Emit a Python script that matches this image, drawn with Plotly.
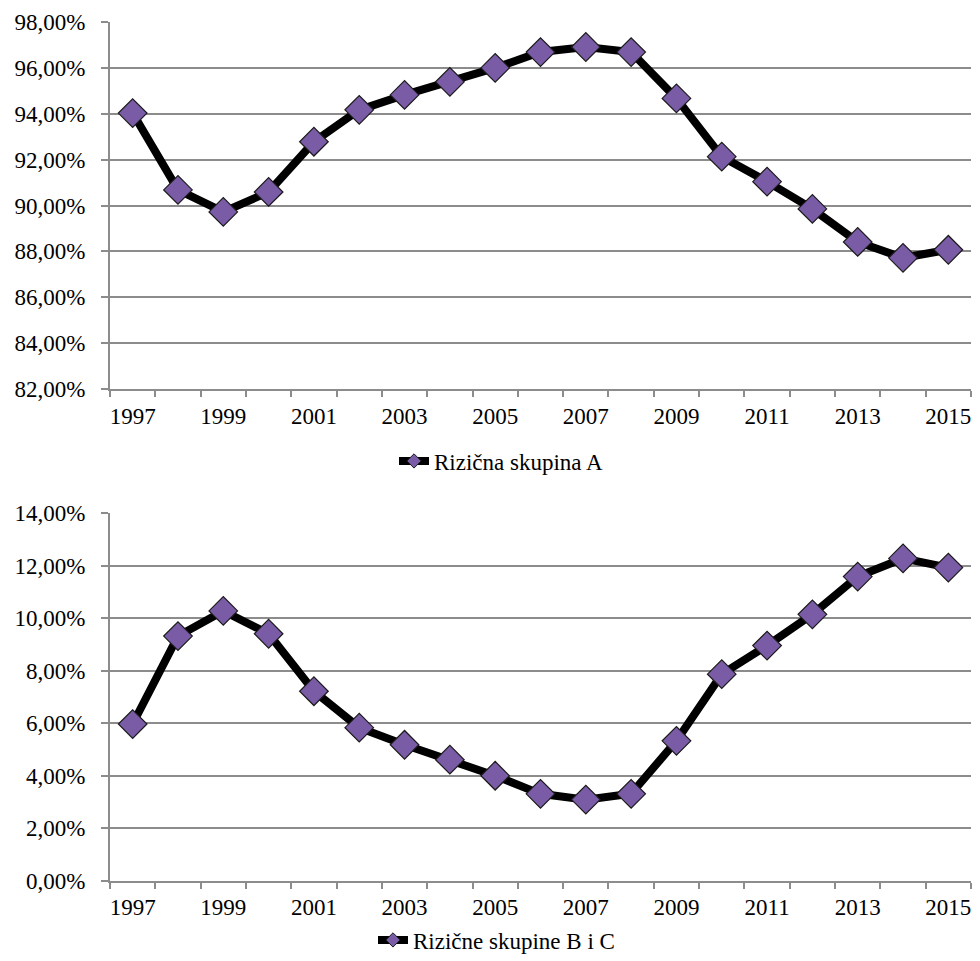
import plotly.graph_objects as go

years = list(range(1997, 2016))
skupina_a = [94.03, 90.68, 89.72, 90.59, 92.78, 94.17, 94.82, 95.39, 96.00, 96.69,
             96.91, 96.69, 94.67, 92.13, 91.04, 89.85, 88.41, 87.72, 88.07]
skupine_bc = [5.97, 9.32, 10.28, 9.41, 7.22, 5.83, 5.18, 4.61, 4.00, 3.31,
              3.09, 3.31, 5.33, 7.87, 8.96, 10.15, 11.59, 12.28, 11.93]
label_years = list(range(1997, 2016, 2))
top_ticks = [82, 84, 86, 88, 90, 92, 94, 96, 98]
bottom_ticks = [0, 2, 4, 6, 8, 10, 12, 14]

FONT = "Liberation Serif"
GRID = "#8c8c8c"
MARKER_FILL = "#7a5ba6"
W, H = 964, 953  # page body has an 8px margin

def pct(v):
    return f"{v:.2f}%".replace(".", ",")

def fx(px):
    return (px - 8) / W

def fy(px):
    return 1 - (px - 8) / H

marker = dict(symbol="diamond", size=22, color=MARKER_FILL, line=dict(color="#1a1a1a", width=1.2))

fig = go.Figure()
fig.add_trace(go.Scatter(
    x=years, y=skupina_a, name="Rizična skupina A", mode="lines+markers",
    line=dict(color="black", width=8), marker=marker, showlegend=False,
    xaxis="x", yaxis="y"))
fig.add_trace(go.Scatter(
    x=years, y=skupine_bc, name="Rizične skupine B i C", mode="lines+markers",
    line=dict(color="black", width=8), marker=marker, showlegend=False,
    xaxis="x2", yaxis="y2"))
# legend entries (no data points)
fig.add_trace(go.Scatter(
    x=[None], y=[None], name="Rizična skupina A", mode="lines+markers",
    line=dict(color="black", width=8),
    marker=dict(symbol="diamond", size=11, color=MARKER_FILL, line=dict(color="#1a1a1a", width=1)),
    xaxis="x", yaxis="y", legend="legend", showlegend=True))
fig.add_trace(go.Scatter(
    x=[None], y=[None], name="Rizične skupine B i C", mode="lines+markers",
    line=dict(color="black", width=8),
    marker=dict(symbol="diamond", size=11, color=MARKER_FILL, line=dict(color="#1a1a1a", width=1)),
    xaxis="x2", yaxis="y2", legend="legend2", showlegend=True))

xdom = [fx(110), fx(971)]
xcommon = dict(
    range=[1996.5, 2015.5], tickmode="array", tickvals=label_years,
    ticktext=[str(y) for y in label_years], ticks="", showgrid=False,
    showline=True, linecolor=GRID, linewidth=2, zeroline=False, automargin=False,
    tickfont=dict(family=FONT, size=23, color="black"), ticklabelstandoff=5,
    minor=dict(tickmode="array", tickvals=[y - 0.5 for y in years] + [2015.5],
               ticks="outside", ticklen=6, tickcolor=GRID, tickwidth=2, showgrid=False),
    domain=xdom, fixedrange=True)
ycommon = dict(
    tickmode="array", ticks="outside", ticklen=7, tickcolor=GRID, tickwidth=2,
    showgrid=True, gridcolor=GRID, gridwidth=1.5, showline=True, linecolor=GRID,
    linewidth=2, zeroline=False, automargin=False, ticklabelstandoff=11,
    tickfont=dict(family=FONT, size=23, color="black"), fixedrange=True)

fig.update_layout(
    width=W, height=H, margin=dict(l=0, r=0, t=0, b=0, autoexpand=False),
    paper_bgcolor="white", plot_bgcolor="white",
    xaxis=dict(xcommon, anchor="y"),
    yaxis=dict(ycommon, range=[82, 98], tickvals=top_ticks,
               ticktext=[pct(v) for v in top_ticks], domain=[fy(389), fy(22)], anchor="x"),
    xaxis2=dict(xcommon, anchor="y2"),
    yaxis2=dict(ycommon, range=[0, 14], tickvals=bottom_ticks,
                ticktext=[pct(v) for v in bottom_ticks], domain=[fy(880.7), fy(513.3)], anchor="x2"),
    legend=dict(x=fx(394), y=fy(461), xanchor="left", yanchor="middle", orientation="h",
                font=dict(family=FONT, size=23, color="black"), bgcolor="rgba(0,0,0,0)"),
    legend2=dict(x=fx(373), y=fy(940), xanchor="left", yanchor="middle", orientation="h",
                 font=dict(family=FONT, size=23, color="black"), bgcolor="rgba(0,0,0,0)"),
)

fig.write_html("out.html")
